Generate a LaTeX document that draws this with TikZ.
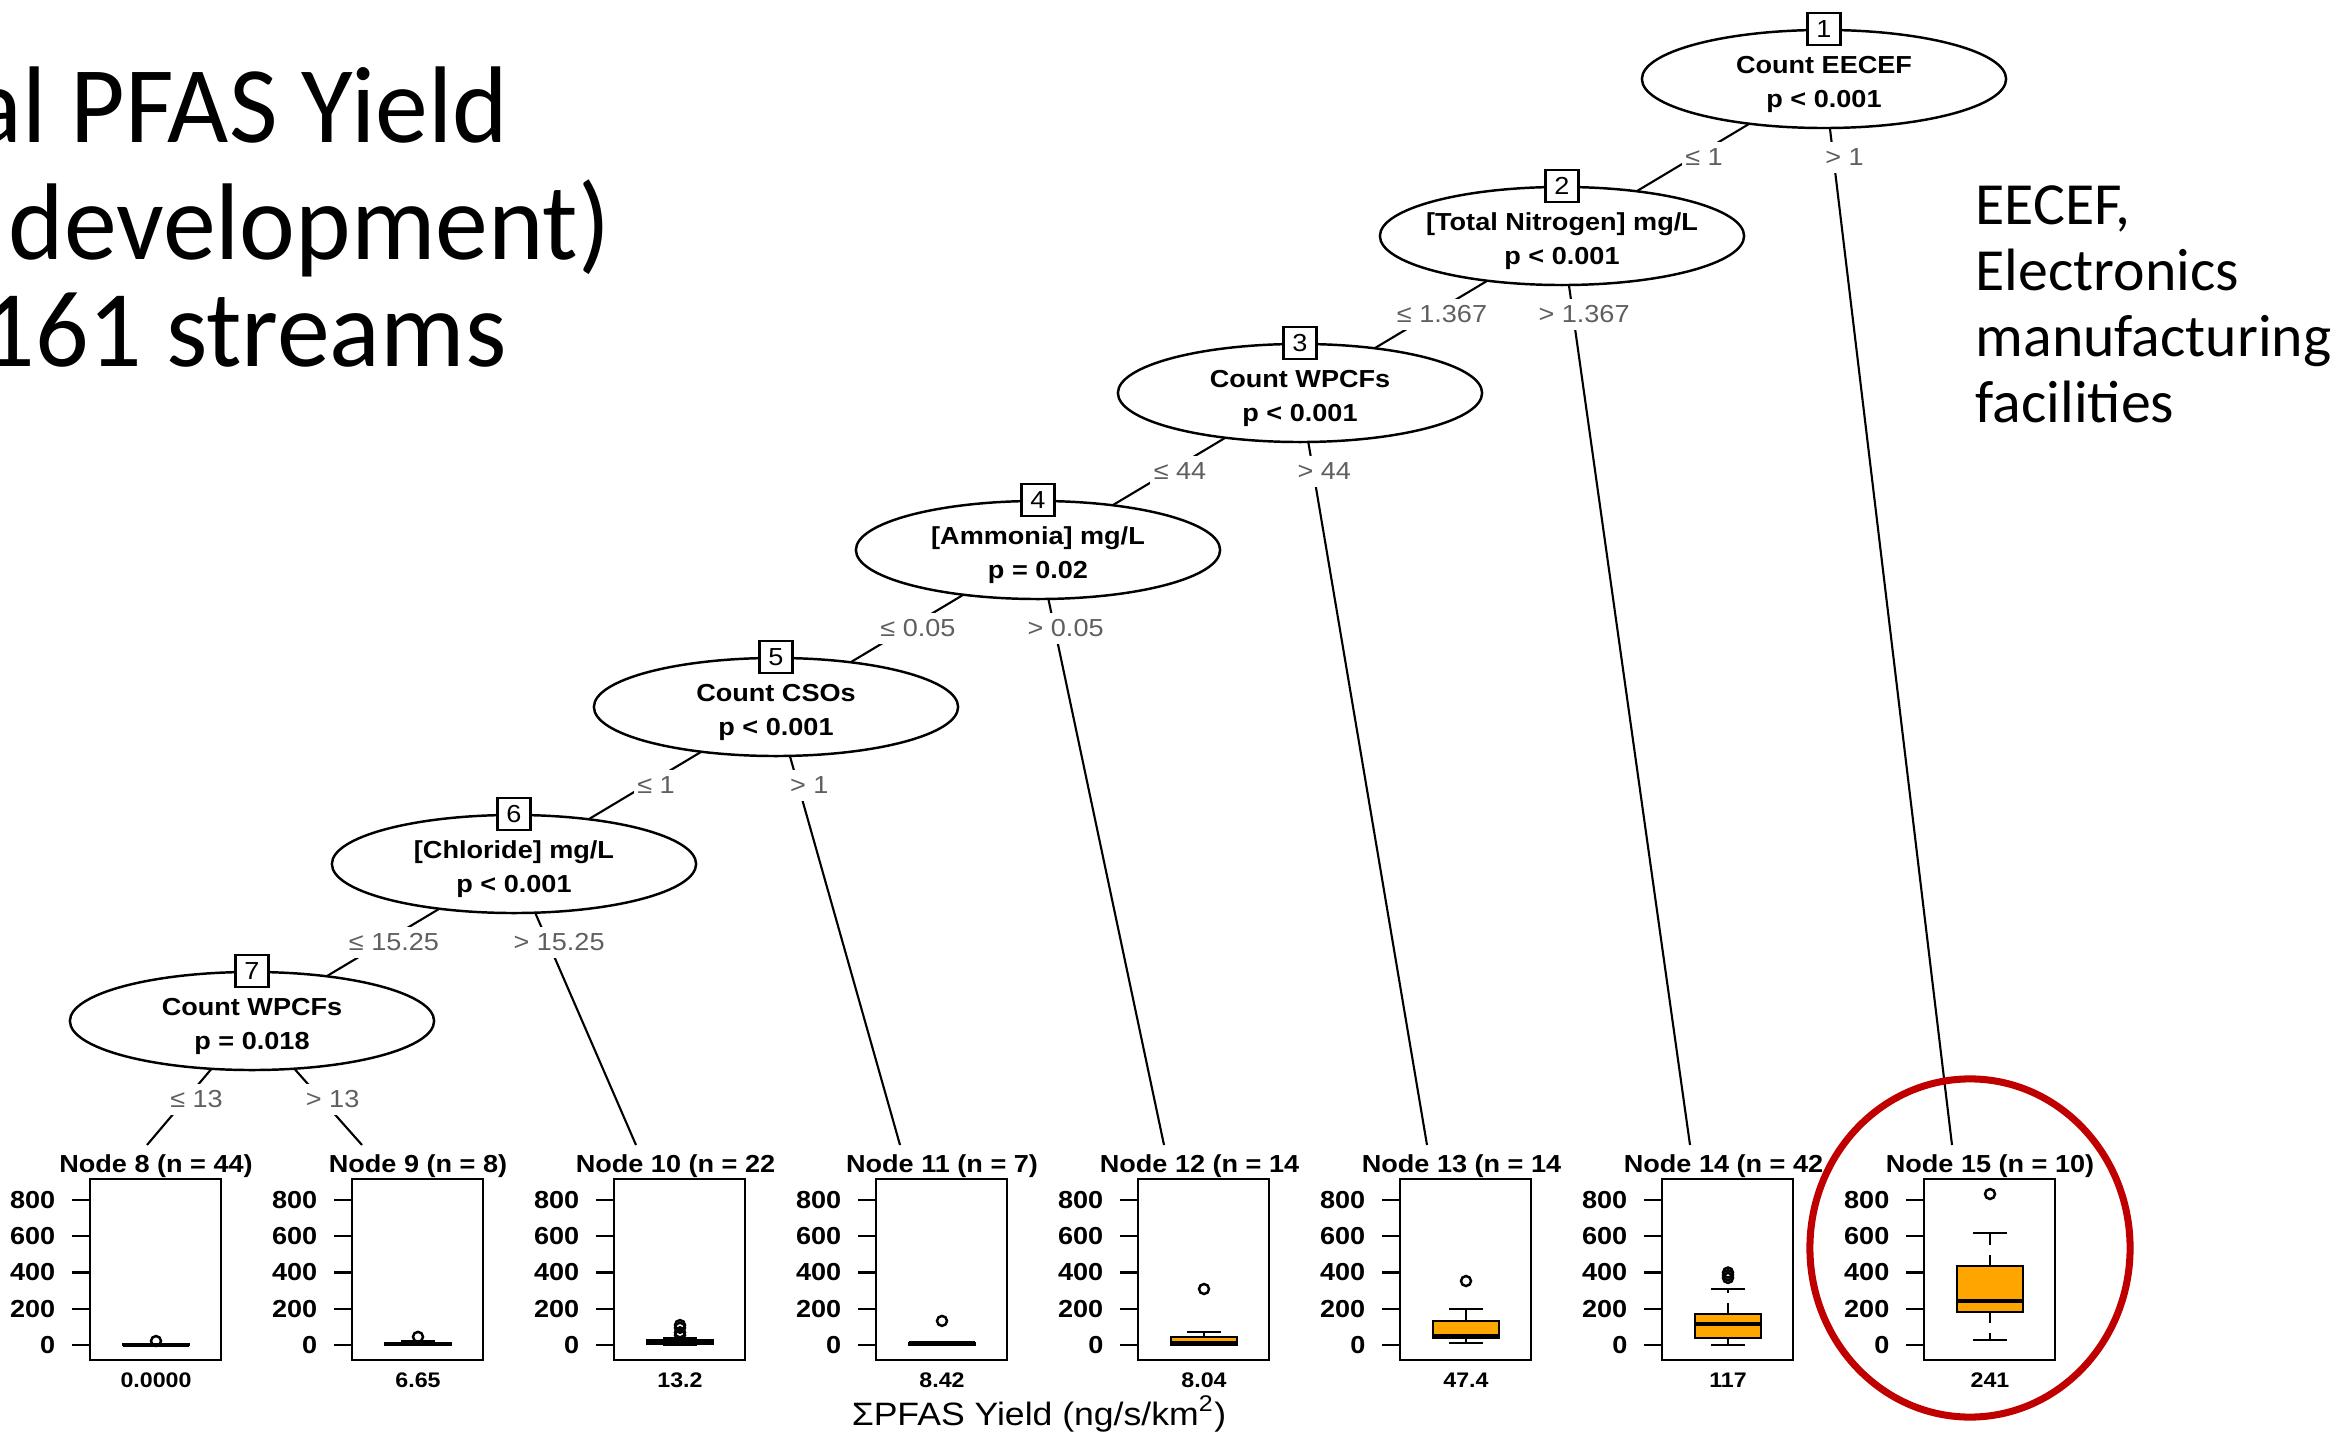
\documentclass[tikz,border=0pt]{standalone}
\usepackage{fontspec}
\usetikzlibrary{shapes.geometric}
\newfontfamily\Rfont[FakeStretch=1.1]{Liberation Sans}
\newfontfamily\Slide{Carlito}
\newfontfamily\SlideT[FakeStretch=0.97]{Carlito}
\definecolor{Or}{RGB}{255,165,0}
\definecolor{Rd}{RGB}{192,0,0}
\definecolor{Gy}{RGB}{95,95,95}
\pgfdeclarelayer{bg}
\pgfsetlayers{bg,main}
\def\Xtop{1824}
\def\Ytop{79}
\def\Xstep{262}
\def\Ystep{157}
\def\Yleaf{1145}
\def\Vzero{1345}
\def\Vscale{0.18125}
\tikzset{
  splitnode/.style={ellipse,draw,fill=white,line width=0.7pt,minimum width=3.64cm,minimum height=0.98cm,inner sep=0pt,align=center,font=\Rfont\bfseries\fontsize{7}{9.7}\selectfont},
  idbox/.style={draw,fill=white,line width=0.7pt,minimum width=0.33cm,minimum height=0.32cm,inner sep=0pt,font=\Rfont\fontsize{7}{8}\selectfont},
  edgelab/.style={fill=white,text=Gy,inner xsep=1pt,inner ysep=2pt,xshift=1.1mm,font=\Rfont\fontsize{7}{8}\selectfont},
  leafbox/.style={draw,line width=0.7pt,minimum width=1.31cm,minimum height=1.81cm,inner sep=0pt},
  rtext/.style={inner sep=0pt,font=\Rfont\bfseries\fontsize{7}{8}\selectfont}
}

\begin{document}
\begin{tikzpicture}[x=0.01cm,y=-0.01cm]
    \path[use as bounding box] (0,0) rectangle (2348,1440);
    % slide text
    \foreach \t/\x/\y [count=\j] in {{al PFAS Yield}/509/143,{development)}/611/260,{161 streams}/507/367}
        \node[anchor=base east,inner sep=0pt,font=\SlideT\fontsize{31}{33}\selectfont] (T\j) at (\x,\y) {\t};
    \foreach \t [count=\j] in {{EECEF,},Electronics,manufacturing,facilities}
        \node[anchor=base west,inner sep=0pt,font=\Slide\fontsize{17}{19}\selectfont] (N\j) at (1975,{225+66*(\j-1)}) {\t};
    % inner nodes of the tree
    \foreach \k/\V/\P in {1/{Count EECEF}/{p < 0.001},2/{[Total Nitrogen] mg/L}/{p < 0.001},3/{Count WPCFs}/{p < 0.001},4/{[Ammonia] mg/L}/{p = 0.02},5/{Count CSOs}/{p < 0.001},6/{[Chloride] mg/L}/{p < 0.001},7/{Count WPCFs}/{p = 0.018}} {
        \node[splitnode] (S\k) at ({\Xtop-\Xstep*(\k-1)},{\Ytop+\Ystep*(\k-1)}) {\makebox[0pt]{\rule{0pt}{8pt}\V}\\\makebox[0pt]{\P}};
        \node[idbox] (I\k) at ({\Xtop-\Xstep*(\k-1)},{\Ytop+\Ystep*(\k-1)-50}) {\k};
    }
    % terminal panels
    \foreach \i/\e in {8/147,9/362,10/636,11/900,12/1164,13/1427,14/1690,15/1952} {
        \pgfmathsetmacro\L{90+\Xstep*(\i-8)}
        \coordinate (E\i) at (\e,\Yleaf);
        \node[leafbox] (F\i) at ({\L+65.5},1269.5) {};
        \foreach \v in {0,200,...,800} {
            \draw[line width=0.7pt] ({\L-18},{\Vzero-\Vscale*\v}) -- ({\L},{\Vzero-\Vscale*\v});
            \node[rtext,anchor=east] at ({\L-34},{\Vzero-\Vscale*\v}) {\v};
        }
    }
    \foreach \i/\n in {8/{44)},9/{8)},10/{22\phantom{)}},11/{7)},12/{14\phantom{)}},13/{14\phantom{)}},14/{42\phantom{)}},15/{10)}}
        \node[rtext,anchor=base] (H\i) at ({90+\Xstep*(\i-8)+66},1172) {Node \i\ (n = \n};
    % box plots
    \foreach \i/\lw/\qa/\md/\qb/\uw/\out/\val in {8/0/0/0/3/6/{22}/0.0000,9/0/2/6.65/12/20/{45}/6.65,10/0/5/13.2/25/40/{55,70,95,110}/13.2,11/0/3/8.42/12/18/{133}/8.42,12/0/3/8.04/45/72/{309}/8.04,13/11/39/47.4/133/199/{353}/47.4,14/0/39/117/171/309/{370,385,400}/117,15/28/182/241/436/618/{833}/241} {
        \pgfmathsetmacro\X{90+\Xstep*(\i-8)+66}
        \draw[line width=0.6pt,dash pattern=on 3pt off 3pt] (\X,{\Vzero-\Vscale*\qb}) -- (\X,{\Vzero-\Vscale*\uw});
        \draw[line width=0.6pt,dash pattern=on 3pt off 3pt] (\X,{\Vzero-\Vscale*\qa}) -- (\X,{\Vzero-\Vscale*\lw});
        \draw[line width=0.7pt] ({\X-17},{\Vzero-\Vscale*\uw}) -- ({\X+17},{\Vzero-\Vscale*\uw});
        \draw[line width=0.7pt] ({\X-17},{\Vzero-\Vscale*\lw}) -- ({\X+17},{\Vzero-\Vscale*\lw});
        \draw[line width=0.7pt,fill=Or] ({\X-33},{\Vzero-\Vscale*\qa}) rectangle ({\X+33},{\Vzero-\Vscale*\qb});
        \draw[line width=1.2pt] ({\X-33},{\Vzero-\Vscale*\md}) -- ({\X+33},{\Vzero-\Vscale*\md});
        \foreach \o in \out {\draw[line width=0.7pt] (\X,{\Vzero-\Vscale*\o}) circle[radius=5];}
        \node[inner sep=0pt,anchor=base,font=\Rfont\bfseries\fontsize{6}{7}\selectfont] (M\i) at (\X,1387) {\val};
    }
    % edges with split labels
    \begin{pgfonlayer}{bg}
        \foreach \k/\T/\c in {1/15/1,2/14/1.367,3/13/44,4/12/0.05,5/11/1,6/10/15.25} {
            \pgfmathtruncatemacro\kk{\k+1}
            \pgfmathsetmacro\Q{78.5/(\Yleaf-\Ytop-\Ystep*(\k-1))}
            \draw[line width=0.6pt] (S\k.center) -- node[edgelab,pos=0.5] {≤ \c} (S\kk.center);
            \draw[line width=0.6pt] (S\k.center) -- node[edgelab,pos=\Q] {> \c} (E\T);
        }
        \draw[line width=0.6pt] (S7.center) -- node[edgelab,pos=0.633] {≤ 13} (E8);
        \draw[line width=0.6pt] (S7.center) -- node[edgelab,pos=0.633] {> 13} (E9);
    \end{pgfonlayer}
    \node[ellipse,draw=Rd,line width=2pt,minimum width=3.2cm,minimum height=3.38cm,inner sep=0pt] (Ring) at (1970,1248) {};
    \node[anchor=base,inner sep=0pt,font=\Rfont\fontsize{9.2}{11}\selectfont] (Xlab) at (1039,1425) {ΣPFAS Yield (ng/s/km\textsuperscript{2})};
\end{tikzpicture}
\end{document}
